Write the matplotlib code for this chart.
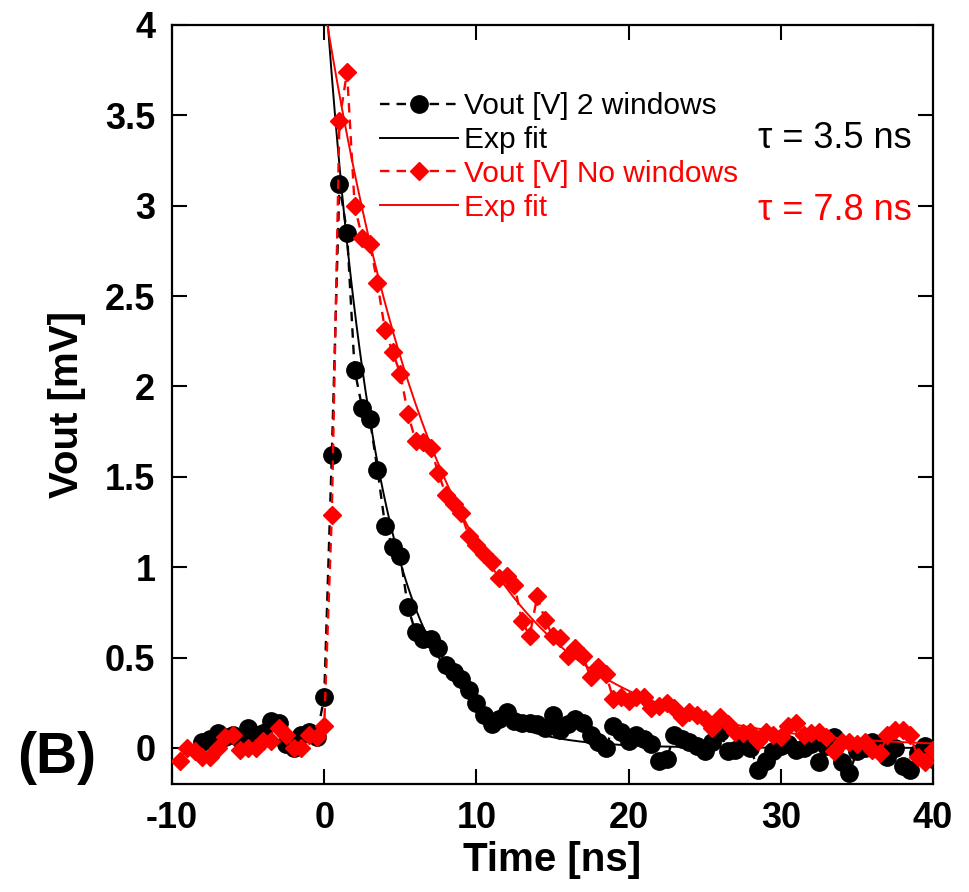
import numpy as np
import matplotlib
matplotlib.use("Agg")
import matplotlib.pyplot as plt

plt.rcParams['font.family'] = ['Liberation Sans', 'DejaVu Sans']

# ---- data ----
t_black = np.arange(-8.0, 40.01, 0.5)
v_black = [0.03, 0.05, 0.08, 0.06, 0.07, 0.05, 0.11, 0.07, 0.08, 0.15,
           0.14, 0.02, 0.00, 0.07, 0.09, 0.06, 0.28, 1.62, 3.12, 2.85,
           2.09, 1.88, 1.82, 1.54, 1.23, 1.11, 1.06, 0.78, 0.64, 0.60,
           0.60, 0.55, 0.46, 0.42, 0.38, 0.32, 0.25, 0.18, 0.13, 0.16,
           0.20, 0.15, 0.14, 0.14, 0.13, 0.11, 0.18, 0.10, 0.13, 0.16,
           0.14, 0.07, 0.03, 0.00, 0.12, 0.09, 0.04, 0.07, 0.05, 0.02,
           -0.07, -0.06, 0.07, 0.05, 0.03, 0.01, -0.02, 0.03, 0.09, -0.02,
           -0.01, 0.03, 0.00, -0.12, -0.07, -0.02, 0.01, 0.02, -0.01, 0.00,
           0.02, -0.08, 0.01, 0.06, -0.08, -0.14, -0.02, 0.00, 0.03, 0.01,
           -0.05, 0.00, -0.10, -0.12, -0.03, 0.01, -0.06]

t_red = np.arange(-9.5, 40.01, 0.5)
v_red = [-0.07, 0.00, -0.02, -0.05, -0.05, 0.00, 0.06, 0.07, -0.01, 0.00,
         0.00, 0.04, 0.04, 0.11, 0.07, 0.00, 0.00, 0.07, 0.06, 0.12,
         1.29, 3.47, 3.74, 3.00, 2.82, 2.79, 2.57, 2.31, 2.19, 2.07,
         1.85, 1.70, 1.69, 1.66, 1.52, 1.40, 1.35, 1.30, 1.17, 1.12,
         1.07, 1.03, 0.94, 0.95, 0.90, 0.70, 0.62, 0.84, 0.71, 0.62,
         0.61, 0.51, 0.55, 0.51, 0.39, 0.45, 0.41, 0.27, 0.28, 0.26,
         0.28, 0.28, 0.22, 0.23, 0.25, 0.22, 0.17, 0.20, 0.18, 0.16,
         0.11, 0.17, 0.13, 0.09, 0.08, 0.09, 0.04, 0.09, 0.07, 0.06,
         0.12, 0.14, 0.07, 0.08, 0.09, 0.06, -0.02, 0.03, 0.03, 0.02,
         0.03, -0.01, -0.03, 0.07, 0.10, 0.10, 0.07, -0.05, -0.08, -0.01]

# exponential fit parameters (amplitude in mV, tau in ns)
amp_black, tau_black = 4.29, 3.5
amp_red, tau_red = 4.11, 7.8

legend_labels = ["Vout [V] 2 windows", "Exp fit", "Vout [V] No windows", "Exp fit"]
tau_labels = ["\u03c4 = 3.5 ns", "\u03c4 = 7.8 ns"]
xticks = [-10, 0, 10, 20, 30, 40]
yticks = [0, 0.5, 1, 1.5, 2, 2.5, 3, 3.5, 4]

# ---- figure ----
fig = plt.figure(figsize=(9.70, 8.92), dpi=100)
ax = fig.add_axes([172/970, 1-784/892, (933-172)/970, (784-25)/892])

t_fit = np.linspace(0, 40, 400)

ax.plot(t_black, v_black, color='black', ls=(0, (4, 3)), lw=1.7,
        marker='o', ms=12.5, mfc='black', mec='black', label=legend_labels[0], zorder=3)
ax.plot(t_fit, amp_black*np.exp(-t_fit/tau_black), color='black', lw=1.4,
        label=legend_labels[1], zorder=4)
ax.plot(t_red, v_red, color='red', ls=(0, (4, 3)), lw=1.7,
        marker='D', ms=9.5, mfc='red', mec='red', label=legend_labels[2], zorder=5)
ax.plot(t_fit, amp_red*np.exp(-t_fit/tau_red), color='red', lw=1.4,
        label=legend_labels[3], zorder=6)

ax.set_xlim(-10, 40)
ax.set_ylim(-0.2, 4.0)
ax.set_xticks(xticks)
ax.set_yticks(yticks)
ax.set_xticklabels([str(v) for v in xticks])
ax.set_yticklabels(['0', '0.5', '1', '1.5', '2', '2.5', '3', '3.5', '4'])

for s in ax.spines.values():
    s.set_linewidth(1.6)
ax.tick_params(direction='in', length=11, width=1.5, top=True, right=True,
               labelsize=26, pad=12)
for lab in ax.get_xticklabels() + ax.get_yticklabels():
    lab.set_fontweight('bold')

ax.set_xlabel("Time [ns]", fontsize=29, fontweight='bold', labelpad=4)
ax.set_ylabel("Vout [mV]", fontsize=29, fontweight='bold', labelpad=14)

leg = ax.legend(loc='upper left', bbox_to_anchor=((380-172)/761, (784-92)/759),
                frameon=False, fontsize=21.5, handlelength=2.6, handletextpad=0.2,
                labelspacing=0.2, borderpad=0, borderaxespad=0, numpoints=1)
for txt, c in zip(leg.get_texts(), ['black', 'black', 'red', 'red']):
    txt.set_color(c)

ax.text((912-172)/761, (784-138)/759, tau_labels[0], transform=ax.transAxes,
        ha='right', va='center', fontsize=26, color='black')
ax.text((912-172)/761, (784-210)/759, tau_labels[1], transform=ax.transAxes,
        ha='right', va='center', fontsize=26, color='red')

fig.text(57/970, 1-758/892, "(B)", fontsize=41, fontweight='bold', ha='center', va='center')

fig.savefig("out.png", dpi=100)
